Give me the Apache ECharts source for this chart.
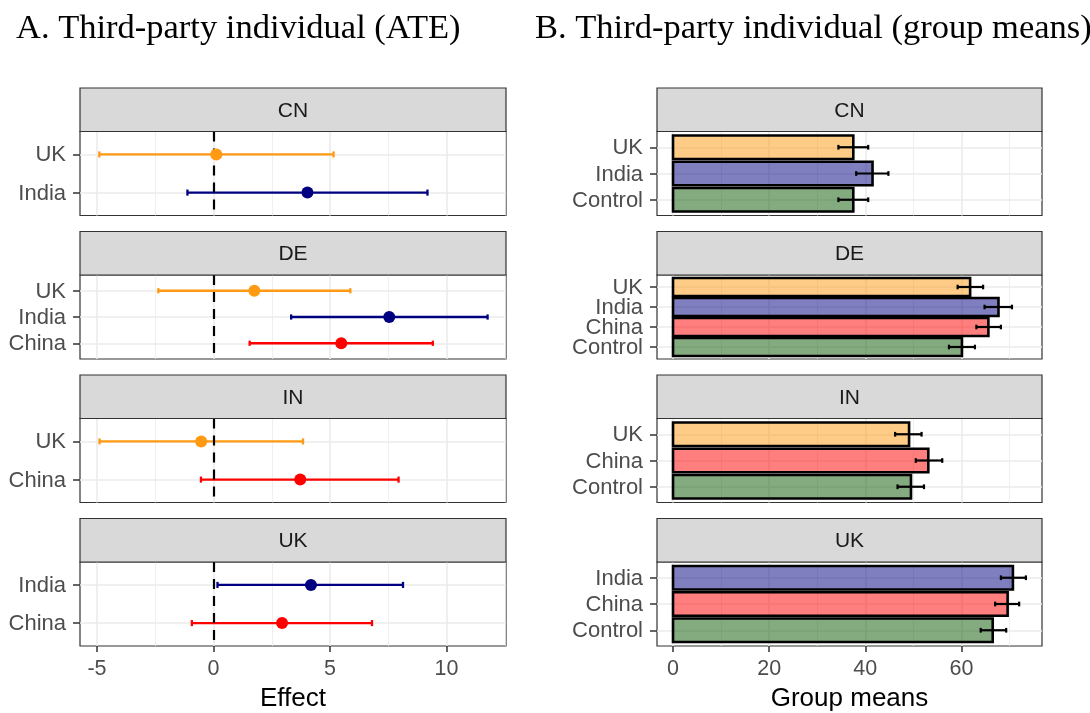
<!DOCTYPE html>
<html>
<head>
<meta charset="utf-8">
<title>Third-party individual</title>
<script src="https://cdn.jsdelivr.net/npm/echarts@6/dist/echarts.min.js"></script>
<style>
  html, body { margin: 0; padding: 0; background: #fff; }
  #chart { width: 1090px; height: 713px; }
</style>
</head>
<body>
<div id="chart"></div>
<script>
// Facets (country of the respondent)
const facetNames = ['CN', 'DE', 'IN', 'UK'];

// A. Average treatment effects with confidence intervals
const ateGroups   = [['UK', 'India'], ['UK', 'India', 'China'], ['UK', 'China'], ['India', 'China']];
const ateEstimate = [[0.12, 4.03], [1.75, 7.54, 5.48], [-0.53, 3.72], [4.18, 2.94]];
const ateLower    = [[-4.90, -1.12], [-2.37, 3.33, 1.55], [-4.89, -0.54], [0.17, -0.93]];
const ateUpper    = [[5.15, 9.18], [5.87, 11.76, 9.41], [3.84, 7.94], [8.13, 6.80]];

// B. Group means with confidence intervals
const meanGroups = [['UK', 'India', 'Control'], ['UK', 'India', 'China', 'Control'], ['UK', 'China', 'Control'], ['India', 'China', 'Control']];
const meanValue  = [[37.5, 41.5, 37.5], [61.8, 67.7, 65.6, 60.1], [49.1, 53.1, 49.5], [70.7, 69.6, 66.5]];
const meanLower  = [[34.4, 38.1, 34.4], [59.2, 64.8, 63.1, 57.4], [46.2, 50.5, 46.7], [68.2, 67.0, 64.0]];
const meanUpper  = [[40.6, 44.8, 40.6], [64.5, 70.5, 68.2, 62.8], [51.7, 56.0, 52.2], [73.4, 72.0, 69.3]];

// Axis breaks
const effectTicks = [-5, 0, 5, 10];
const effectMinor = [-2.5, 2.5, 7.5, 12.5];
const meanTicks = [0, 20, 40, 60];
const meanMinor = [10, 30, 50, 70];

// Styling
const groupColor = { UK: '#FF9A12', India: '#000080', China: '#FF0000', Control: '#0A5500' };
const groupFill = {
  UK: 'rgba(255,154,18,0.5)', India: 'rgba(0,0,128,0.5)',
  China: 'rgba(255,0,0,0.5)', Control: 'rgba(10,85,0,0.5)'
};
const SANS = '"Liberation Sans", Arial, Helvetica, sans-serif';
const SERIF = '"Liberation Serif", "Times New Roman", serif';

// Facet layout
const panels = [
  { left: 80, right: 506, min: -5.73, max: 12.55, ticks: effectTicks, minor: effectMinor, title: 'Effect' },
  { left: 657, right: 1042, min: -3.33, max: 76.75, ticks: meanTicks, minor: meanMinor, title: 'Group means' }
];
const stripTop0 = 88, stripH = 43.5, plotH = 84, pitch = 143.5;
const yLabelGap = 14;

const grids = [], xAxes = [], yAxes = [], series = [], graphics = [];

function addFacet(p, row, groups) {
  const panel = panels[p];
  const g = grids.length;
  const top = stripTop0 + row * pitch;
  const n = groups.length;
  const isBottom = row === facetNames.length - 1;
  const idx = groups.map((_, i) => i);

  grids.push({
    left: panel.left, top: top + stripH, width: panel.right - panel.left, height: plotH,
    show: true, backgroundColor: '#fff', borderColor: '#333333', borderWidth: 1.2
  });
  // major breaks (with labels on the bottom facet)
  xAxes.push({
    gridIndex: g, type: 'value', position: 'bottom', min: panel.min, max: panel.max,
    axisLine: { show: false, onZero: false },
    axisTick: { show: isBottom, customValues: panel.ticks, length: 6, lineStyle: { color: '#333333', width: 1.5 } },
    axisLabel: {
      show: isBottom, customValues: panel.ticks, margin: 12, showMinLabel: true, showMaxLabel: true,
      fontFamily: SANS, fontSize: 21.5, color: '#4D4D4D'
    },
    splitLine: { show: true, lineStyle: { color: '#EBEBEB', width: 1.6 } }
  });
  // minor breaks
  xAxes.push({
    gridIndex: g, type: 'value', position: 'bottom', min: panel.min, max: panel.max,
    axisLine: { show: false, onZero: false },
    axisTick: { show: false, customValues: panel.minor },
    axisLabel: { show: false },
    splitLine: { show: true, lineStyle: { color: '#EBEBEB', width: 0.8 } }
  });
  // discrete group axis: one position per group, padded by 0.6 on both ends
  yAxes.push({
    gridIndex: g, type: 'value', position: 'left', inverse: true, min: -0.6, max: n - 0.4,
    axisLine: { show: false, onZero: false },
    axisTick: { show: true, customValues: idx, length: 7, lineStyle: { color: '#333333', width: 1.5 } },
    axisLabel: { show: false },
    splitLine: { show: true, lineStyle: { color: '#EBEBEB', width: 1.6 } }
  });

  // group names next to the ticks, placed through the axis scale
  series.push({
    type: 'custom', xAxisIndex: 2 * g, yAxisIndex: g, z: 5, silent: true, clip: false,
    data: groups.map((grp, i) => [panel.min, i]),
    renderItem: (params, api) => {
      const pt = api.coord([api.value(0), api.value(1)]);
      return {
        type: 'text',
        style: {
          text: groups[api.value(1)], x: pt[0] - yLabelGap, y: pt[1] + 1,
          align: 'right', verticalAlign: 'middle', font: '22px ' + SANS, fill: '#4D4D4D'
        }
      };
    }
  });

  // strip
  graphics.push({
    type: 'rect', z: 10,
    shape: { x: panel.left, y: top, width: panel.right - panel.left, height: stripH },
    style: { fill: '#D9D9D9', stroke: '#333333', lineWidth: 1.2 }
  });
  graphics.push({
    type: 'text', z: 11,
    style: {
      text: facetNames[row], x: (panel.left + panel.right) / 2, y: top + stripH / 2 + 1,
      align: 'center', verticalAlign: 'middle', font: '21px ' + SANS, fill: '#1A1A1A'
    }
  });
  return g;
}

// Panel A facets
facetNames.forEach((name, row) => {
  const groups = ateGroups[row];
  const g = addFacet(0, row, groups);
  series.push({
    type: 'custom', xAxisIndex: 2 * g, yAxisIndex: g, z: 2, silent: true,
    data: groups.map((grp, i) => [ateLower[row][i], ateUpper[row][i], i]),
    renderItem: (params, api) => {
      const i = api.value(2);
      const a = api.coord([api.value(0), i]);
      const b = api.coord([api.value(1), i]);
      const h = Math.max(api.size([0, 0.16])[1] / 2, 2.6);
      const st = { stroke: groupColor[groups[i]], lineWidth: 2.3 };
      return {
        type: 'group', children: [
          { type: 'line', shape: { x1: a[0], y1: a[1], x2: b[0], y2: b[1] }, style: st },
          { type: 'line', shape: { x1: a[0], y1: a[1] - h, x2: a[0], y2: a[1] + h }, style: st },
          { type: 'line', shape: { x1: b[0], y1: b[1] - h, x2: b[0], y2: b[1] + h }, style: st }
        ]
      };
    },
    markLine: {
      silent: true, symbol: 'none', z: 3, animation: false,
      label: { show: false },
      lineStyle: { color: '#000', type: [10, 7], width: 2.2, opacity: 1 },
      data: [{ xAxis: 0 }]
    }
  });
  series.push({
    type: 'scatter', xAxisIndex: 2 * g, yAxisIndex: g, z: 4, silent: true,
    symbol: 'circle', symbolSize: 12,
    data: groups.map((grp, i) => ({ value: [ateEstimate[row][i], i], itemStyle: { color: groupColor[grp], opacity: 1 } }))
  });
});

// Panel B facets
facetNames.forEach((name, row) => {
  const groups = meanGroups[row];
  const g = addFacet(1, row, groups);
  series.push({
    type: 'custom', xAxisIndex: 2 * g, yAxisIndex: g, z: 2, silent: true,
    data: groups.map((grp, i) => [meanValue[row][i], i]),
    renderItem: (params, api) => {
      const i = api.value(1);
      const a = api.coord([0, i]);
      const b = api.coord([api.value(0), i]);
      const h = api.size([0, 0.9])[1];
      return {
        type: 'rect',
        shape: { x: a[0], y: a[1] - h / 2, width: b[0] - a[0], height: h },
        style: { fill: groupFill[groups[i]], stroke: '#000', lineWidth: 2.6 }
      };
    }
  });
  series.push({
    type: 'custom', xAxisIndex: 2 * g, yAxisIndex: g, z: 3, silent: true,
    data: groups.map((grp, i) => [meanLower[row][i], meanUpper[row][i], i]),
    renderItem: (params, api) => {
      const i = api.value(2);
      const a = api.coord([api.value(0), i]);
      const b = api.coord([api.value(1), i]);
      const h = Math.max(api.size([0, 0.18])[1] / 2, 2.3);
      const st = { stroke: '#000', lineWidth: 2.2 };
      return {
        type: 'group', children: [
          { type: 'line', shape: { x1: a[0], y1: a[1], x2: b[0], y2: b[1] }, style: st },
          { type: 'line', shape: { x1: a[0], y1: a[1] - h, x2: a[0], y2: a[1] + h }, style: st },
          { type: 'line', shape: { x1: b[0], y1: b[1] - h, x2: b[0], y2: b[1] + h }, style: st }
        ]
      };
    }
  });
});

// Panel titles and axis titles
graphics.push({
  type: 'text', z: 11,
  style: { text: 'A. Third-party individual (ATE)', x: 16, y: 29, verticalAlign: 'middle', font: '34.5px ' + SERIF, fill: '#000' }
});
graphics.push({
  type: 'text', z: 11,
  style: { text: 'B. Third-party individual (group means)', x: 535, y: 29, verticalAlign: 'middle', font: '34.5px ' + SERIF, fill: '#000' }
});
panels.forEach(panel => {
  graphics.push({
    type: 'text', z: 11,
    style: {
      text: panel.title, x: (panel.left + panel.right) / 2, y: 699,
      align: 'center', verticalAlign: 'middle', font: '26px ' + SANS, fill: '#000'
    }
  });
});

const chart = echarts.init(document.getElementById('chart'), null, { renderer: 'canvas' });
chart.setOption({
  animation: false,
  backgroundColor: '#fff',
  grid: grids,
  xAxis: xAxes,
  yAxis: yAxes,
  series: series,
  graphic: graphics
});
</script>
</body>
</html>
